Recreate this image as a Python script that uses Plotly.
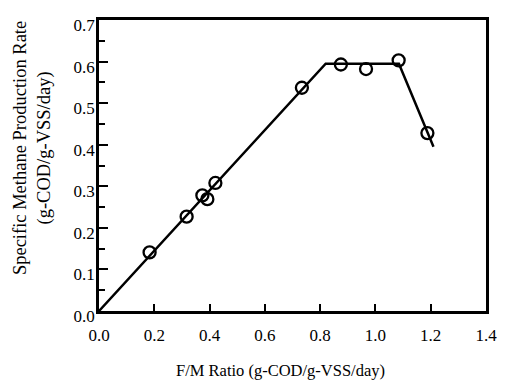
import plotly.graph_objects as go

fm_ratio = [0.183, 0.317, 0.374, 0.392, 0.421, 0.734, 0.875, 0.966, 1.084, 1.188]
methane_rate = [0.141, 0.227, 0.278, 0.269, 0.308, 0.537, 0.593, 0.582, 0.603, 0.428]

fit_x = [0.0, 0.82, 1.085, 1.21]
fit_y = [0.0, 0.595, 0.595, 0.395]

x_ticks = [0.0, 0.2, 0.4, 0.6, 0.8, 1.0, 1.2, 1.4]
y_ticks = [0.0, 0.1, 0.2, 0.3, 0.4, 0.5, 0.6, 0.7]

x_title = "F/M Ratio (g-COD/g-VSS/day)"
y_title = "Specific Methane Production Rate<br>(g-COD/g-VSS/day)"

font = "Liberation Serif, Times New Roman, serif"

fig = go.Figure()
fig.add_trace(go.Scatter(x=fit_x, y=fit_y, mode="lines",
                         line=dict(color="black", width=2.5), showlegend=False))
fig.add_trace(go.Scatter(x=fm_ratio, y=methane_rate, mode="markers",
                         marker=dict(symbol="circle-open", size=12, color="black",
                                     line=dict(width=2.3, color="black")),
                         showlegend=False))

fig.update_layout(
    width=508, height=383,
    margin=dict(l=99, r=11, t=20, b=72),
    paper_bgcolor="white", plot_bgcolor="white",
    font=dict(family=font, size=17, color="black"),
    xaxis=dict(range=[0, 1.4], tickvals=x_ticks,
               ticktext=[f"{v:.1f}" for v in x_ticks],
               ticks="inside", ticklen=7, tickwidth=2, tickcolor="black",
               showline=True, linecolor="black", linewidth=2.5, mirror=True,
               showgrid=False, zeroline=False, ticklabelstandoff=7),
    yaxis=dict(range=[0, 0.7], tickvals=y_ticks,
               ticktext=[f"{v:.1f}" for v in y_ticks],
               ticks="inside", ticklen=9, tickwidth=2, tickcolor="black",
               minor=dict(dtick=0.05, ticks="inside", ticklen=6, tickwidth=2,
                          tickcolor="black", showgrid=False),
               showline=True, linecolor="black", linewidth=2.5, mirror=True,
               showgrid=False, zeroline=False, ticklabelstandoff=-2,
               ticklabelshift=5),
    annotations=[
        dict(text=x_title, xref="paper", yref="paper", x=0.47, y=-0.206,
             xanchor="center", yanchor="middle", showarrow=False,
             font=dict(size=16.5)),
        dict(text=y_title, xref="paper", yref="paper", x=-0.173, y=0.56,
             xanchor="center", yanchor="middle", showarrow=False,
             textangle=-90, font=dict(size=18.5)),
    ],
)

fig.write_html("out.html", config={"displayModeBar": False},
               post_script="document.body.style.margin='0';document.body.style.overflow='hidden';")
